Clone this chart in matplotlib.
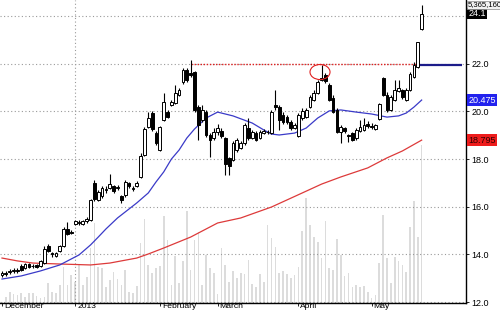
import matplotlib
matplotlib.use('Agg')
import matplotlib.pyplot as plt
from matplotlib.patches import Ellipse
from matplotlib.transforms import ScaledTranslation
import numpy as np

plt.rcParams['font.family'] = ['Liberation Sans', 'DejaVu Sans']

# ---------------- data ----------------
opens = [13.14, 13.22, 13.27, 13.31, 13.35, 13.52, 13.43, 13.60, 13.52, 13.56,
         13.52, 13.64, 14.36, 14.06, 13.94, 14.15, 14.36, 15.07, 14.94, 15.28,
         15.36, 15.28, 15.40, 15.45, 17.00, 16.28, 16.45, 16.70, 16.79, 16.87,
         16.79, 16.45, 16.49, 17.00, 16.75, 16.87, 17.25, 18.17, 19.35, 19.93,
         19.09, 18.38, 19.64, 19.97, 20.27, 20.35, 20.69, 21.23, 21.74, 21.61,
         21.65, 20.18, 19.64, 19.97, 19.01, 18.88, 19.14, 19.18, 18.88, 18.05,
         17.96, 18.38, 18.46, 18.67, 19.30, 18.88, 19.09, 18.88, 19.09, 19.14,
         19.09, 20.27, 20.18, 19.85, 19.76, 19.55, 19.30, 18.97, 19.72, 19.76,
         20.18, 20.48, 20.77, 21.32, 21.53, 21.11, 20.56, 20.06, 19.14, 19.30,
         19.01, 19.09, 18.88, 19.18, 19.22, 19.47, 19.39, 19.26, 19.68, 21.40,
         20.69, 20.06, 20.48, 20.85, 20.90, 20.48, 20.90, 21.44, 21.86, 23.45]
highs = [13.31, 13.31, 13.39, 13.43, 13.43, 13.60, 13.64, 13.64, 13.60, 13.60,
         13.77, 14.36, 14.44, 14.10, 14.10, 14.40, 15.15, 15.36, 15.03, 15.45,
         15.45, 15.45, 15.57, 16.33, 17.12, 16.70, 16.87, 16.87, 17.37, 16.91,
         16.91, 16.49, 17.12, 17.04, 16.87, 17.08, 18.25, 19.35, 19.97, 20.02,
         19.18, 19.39, 20.77, 20.06, 20.48, 21.11, 20.98, 21.82, 21.82, 22.15,
         21.69, 20.27, 20.27, 20.06, 19.09, 19.30, 19.47, 19.30, 18.93, 18.09,
         18.76, 18.88, 18.76, 19.51, 19.72, 19.22, 19.18, 19.22, 19.26, 19.22,
         20.06, 20.90, 20.27, 19.97, 19.85, 19.64, 19.51, 19.93, 20.14, 20.14,
         20.69, 20.90, 21.32, 21.94, 21.61, 21.19, 20.69, 20.14, 19.43, 19.35,
         19.05, 19.14, 19.30, 19.64, 19.72, 19.60, 19.51, 19.47, 20.35, 21.44,
         20.81, 20.69, 21.32, 21.32, 20.94, 20.98, 21.65, 22.07, 22.91, 24.46]
lows = [13.06, 13.10, 13.18, 13.22, 13.22, 13.31, 13.39, 13.43, 13.43, 13.43,
        13.47, 13.60, 14.10, 13.89, 13.89, 14.10, 14.31, 14.82, 14.86, 15.24,
        15.24, 15.24, 15.32, 15.40, 16.24, 16.24, 16.37, 16.58, 16.75, 16.58,
        16.70, 16.16, 16.41, 16.79, 16.66, 16.83, 17.21, 18.13, 19.30, 19.18,
        18.59, 18.34, 19.60, 19.72, 20.23, 20.31, 20.64, 21.15, 21.23, 21.44,
        19.97, 18.80, 19.55, 18.93, 18.09, 18.80, 19.01, 18.88, 17.33, 17.33,
        17.92, 18.30, 18.42, 18.59, 18.80, 18.84, 18.76, 18.84, 19.05, 19.05,
        19.05, 20.06, 19.22, 19.47, 19.47, 19.22, 19.26, 18.93, 19.64, 19.72,
        20.14, 20.44, 20.73, 21.27, 21.19, 20.44, 19.93, 19.09, 18.67, 19.09,
        18.72, 18.76, 18.80, 19.14, 19.18, 19.30, 19.26, 19.22, 19.64, 20.64,
        19.97, 20.02, 20.44, 20.81, 20.52, 20.44, 20.85, 21.40, 21.82, 23.41]
closes = [13.22, 13.18, 13.31, 13.32, 13.31, 13.35, 13.60, 13.47, 13.50, 13.47,
          13.73, 14.23, 14.15, 14.02, 14.06, 14.36, 15.07, 14.86, 14.92, 15.40,
          15.32, 15.40, 15.49, 16.28, 16.33, 16.62, 16.79, 16.72, 16.95, 16.66,
          16.81, 16.28, 17.04, 16.87, 16.77, 17.00, 18.13, 19.26, 19.72, 19.26,
          18.67, 19.35, 20.39, 19.76, 20.39, 20.77, 20.90, 21.74, 21.32, 21.53,
          20.06, 19.43, 20.06, 19.01, 18.80, 19.14, 19.30, 18.97, 17.79, 17.71,
          18.67, 18.80, 18.67, 19.43, 18.88, 19.14, 18.80, 19.14, 19.18, 19.12,
          19.97, 20.18, 19.64, 19.55, 19.55, 19.30, 19.43, 19.85, 20.02, 20.06,
          20.60, 20.77, 21.23, 21.40, 21.27, 20.48, 19.97, 19.14, 19.35, 19.18,
          18.97, 18.80, 19.22, 19.35, 19.43, 19.39, 19.35, 19.43, 20.31, 20.69,
          20.06, 20.60, 20.90, 20.98, 20.60, 20.90, 21.57, 21.94, 22.91, 24.10]
volumes_m = [0.05, 0.20, 0.37, 0.31, 0.27, 0.34, 0.20, 0.34, 0.34, 0.24,
             0.17, 0.20, 0.68, 0.37, 0.34, 0.61, 1.22, 0.61, 0.95, 0.71,
             1.29, 0.61, 0.88, 1.87, 2.72, 1.22, 1.19, 0.54, 0.78, 1.05,
             0.82, 0.61, 1.12, 0.37, 0.34, 0.58, 2.04, 2.85, 1.29, 1.02,
             1.19, 1.26, 2.95, 2.14, 0.61, 1.60, 0.68, 1.43, 3.12, 1.12,
             2.14, 2.41, 0.61, 1.63, 1.19, 1.02, 0.31, 1.87, 1.29, 0.71,
             1.09, 0.85, 1.02, 0.98, 1.46, 0.65, 0.54, 0.98, 0.71, 2.65,
             2.21, 1.90, 1.02, 1.09, 0.98, 0.85, 0.95, 1.22, 2.45, 3.57,
             2.65, 2.24, 2.07, 1.53, 2.78, 1.19, 1.12, 2.17, 1.63, 0.92,
             1.02, 0.54, 0.61, 0.54, 0.58, 0.37, 0.17, 0.27, 1.36, 2.99,
             1.53, 0.68, 1.56, 1.43, 1.29, 1.05, 2.58, 3.46, 2.24, 5.365]

ma_blue_idx = [0, 5, 10, 15, 20, 23, 25, 27, 30, 35, 38, 40, 42, 44, 46, 48, 50,
               53, 56, 60, 65, 68, 70, 72, 76, 79, 82, 85, 88, 92, 96, 100, 103,
               105, 107, 109]
ma_blue = [12.97, 13.10, 13.31, 13.56, 13.98, 14.40, 14.73, 15.07, 15.53, 16.16,
           16.58, 17.04, 17.46, 18.00, 18.38, 18.88, 19.26, 19.72, 19.97, 19.81,
           19.51, 19.22, 19.05, 19.01, 19.09, 19.30, 19.72, 20.02, 20.06, 19.97,
           19.89, 19.76, 19.81, 19.93, 20.18, 20.475]
ma_red_idx = [0, 4, 8, 15, 23, 28, 35, 38, 42, 49, 56, 62, 70, 78, 83, 88, 95,
              100, 104, 109]
ma_red = [13.85, 13.73, 13.64, 13.60, 13.56, 13.64, 13.85, 14.02, 14.27, 14.73,
          15.32, 15.53, 15.99, 16.58, 16.95, 17.25, 17.63, 18.05, 18.34, 18.795]

month_idx = [0, 19, 41, 56, 77, 96]
month_labels = ['December', '2013', 'February', 'March', 'April', 'May']
price_ticks = [12.0, 14.0, 16.0, 18.0, 20.0, 22.0]
grid_levels = [12.0, 14.0, 16.0, 18.0, 20.0, 22.0, 24.0]
resistance = 22.0
last_line = 21.93
last_close_label = '24.1'
last_volume_label = '5,365,160'
blue_label = '20.475'
red_label = '18.795'

# ---------------- figure ----------------
fig = plt.figure(figsize=(5.0, 3.12), dpi=100)
pos = [0.0, 9 / 312, 466 / 500, 303 / 312]
ax_v = fig.add_axes(pos)
ax = fig.add_axes(pos)
ax.patch.set_visible(False)

n = len(closes)
x = np.arange(n)
xlim = (-0.52, 120.52)

# volume
ax_v.bar(x, volumes_m, width=0.42, color='#dcdcdc', linewidth=0)
ax_v.set_xlim(*xlim)
ax_v.set_ylim(0, 10.29)
ax_v.axis('off')

# grid
for g in grid_levels:
    ax.axhline(g, color='#9a9a9a', lw=0.8, ls=(0, (1, 2.2)), zorder=0)
ax.axvline(19, color='#9a9a9a', lw=0.8, ls=(0, (1, 2.2)), zorder=0)

# moving averages
ax.plot(ma_red_idx, ma_red, color='#dd3a3a', lw=0.9, zorder=1)
ax.plot(ma_blue_idx, ma_blue, color='#3a3ac8', lw=0.9, zorder=1)

# resistance & level lines
ax.hlines(resistance, 49, 108, color='#e02020', lw=1.0, ls=(0, (1, 1.2)), zorder=1)
ax.hlines(last_line, 107.5, 119.5, color='#1c1c8a', lw=1.6, zorder=1)

# candles
o = np.array(opens); c = np.array(closes)
h = np.array(highs); l = np.array(lows)
ax.vlines(x, l, h, color='black', lw=0.8, zorder=2)
up = c >= o
bottoms = np.minimum(o, c)
heights = np.maximum(np.abs(c - o), 0.03)
ax.bar(x[up], heights[up], bottom=bottoms[up], width=0.72,
       color='white', edgecolor='black', linewidth=0.7, zorder=3)
ax.bar(x[~up], heights[~up], bottom=bottoms[~up], width=0.72,
       color='black', edgecolor='black', linewidth=0.7, zorder=3)

# circled high
ax.add_patch(Ellipse((82.6, 21.65), 5.2, 0.63, fill=False,
                     edgecolor='#e02020', lw=0.8, zorder=4))

ax.set_xlim(*xlim)
ax.set_ylim(11.965, 24.67)

# axes styling
for s in ['left', 'top']:
    ax.spines[s].set_visible(False)
for s in ['right', 'bottom']:
    ax.spines[s].set_color('black')
    ax.spines[s].set_linewidth(1.0)

ax.yaxis.tick_right()
ax.set_yticks(price_ticks)
ax.set_yticklabels([f'{v:.1f}' for v in price_ticks])
ax.tick_params(axis='y', length=2, width=0.6, pad=2, labelsize=6.5)

ax.set_xticks(month_idx)
ax.set_xticklabels(month_labels)
ax.tick_params(axis='x', length=2.5, width=0.6, pad=-2.4, labelsize=6.1)
off = ScaledTranslation(2 / 100, 0, fig.dpi_scale_trans)
for lab in ax.get_xticklabels():
    lab.set_ha('left')
    lab.set_transform(lab.get_transform() + off)

# value boxes on the right
ytr = ax.get_yaxis_transform()
ax.text(1.005, 20.475, blue_label, transform=ytr, ha='left', va='center',
        fontsize=6.5, color='white', clip_on=False,
        bbox=dict(boxstyle='square,pad=0.15', fc='#2222ee', ec='none'))
ax.text(1.005, 18.795, red_label, transform=ytr, ha='left', va='center',
        fontsize=6.5, color='#300000', clip_on=False,
        bbox=dict(boxstyle='square,pad=0.15', fc='#ee1c1c', ec='none'))
ax.text(1.005, 24.10, last_close_label, transform=ytr, ha='left', va='center',
        fontsize=6.5, color='white', clip_on=False,
        bbox=dict(boxstyle='square,pad=0.15', fc='black', ec='none'))
ax.text(1.003, 24.46, last_volume_label, transform=ytr, ha='left', va='center',
        fontsize=5.6, color='black', clip_on=False,
        bbox=dict(boxstyle='square,pad=0.1', fc='#f2f2f2', ec='#888888', lw=0.5))

fig.savefig('out.png', dpi=100)
